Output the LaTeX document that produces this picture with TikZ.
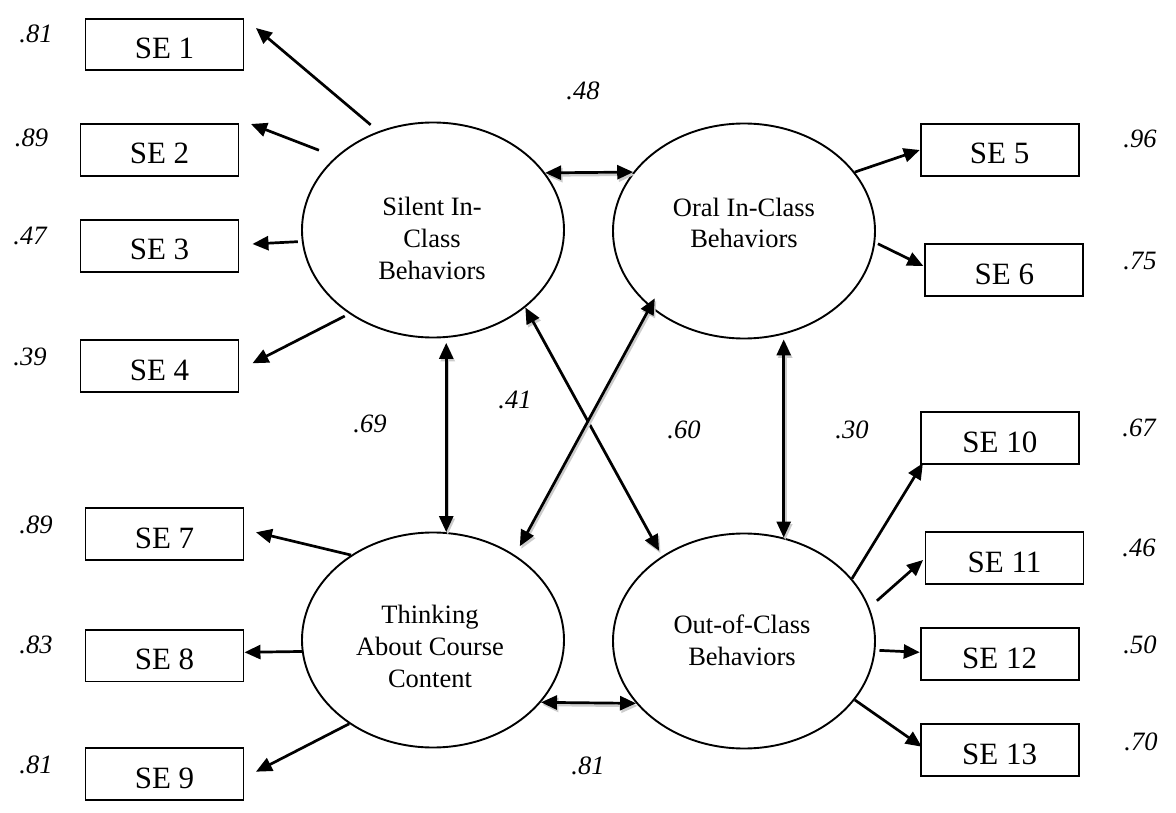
\documentclass[tikz,border=0pt]{standalone}
\usepackage{fontspec}
\setmainfont{Liberation Serif}
\usetikzlibrary{shapes.geometric,arrows.meta}
% a correlation: grey drop shade first, then the black double-headed line
\newcommand\corrline[3]{%
  \draw[corr,#1,draw=black!20,transform canvas={xshift=1.5pt,yshift=-2.5pt}] #2 -- #3;
  \draw[corr,#1] #2 -- #3;}
\begin{document}
\begin{tikzpicture}[x=1pt,y=-1pt,
  >={Triangle[length=16pt,width=14pt]},
  latent/.style={ellipse,draw,line width=1.9pt,minimum width=262pt,minimum height=215pt,inner sep=0pt},
  lattext/.style={align=center,inner sep=0pt,font=\fontsize{26.5}{31.7}\selectfont},
  obs/.style={rectangle,draw,line width=1.9pt,minimum width=158pt,minimum height=51.5pt,inner sep=0pt,
              text height=28pt,text depth=0pt,font=\fontsize{31}{36}\selectfont},
  coef/.style={anchor=base,inner sep=0pt,font=\fontsize{26.5}{31.7}\selectfont\itshape},
  load/.style={line width=2.7pt,->},
  corr/.style={line width=2.7pt,<->}]
\useasboundingbox[fill=white] (0,0) rectangle (1176,813);

% latent factors
\node[latent] (sil) at (433,230) {};
\node[latent] (ora) at (744,231) {};
\node[latent] (thk) at (433,640) {};
\node[latent] (out) at (744,641) {};
\node[lattext] (silT) at (432,238.6) {Silent In-\\Class\\Behaviors};
\node[lattext] (oraT) at (744,222.8) {Oral In-Class\\Behaviors};
\node[lattext] (thkT) at (430,646.4) {Thinking\\About Course\\Content};
\node[lattext] (outT) at (742,640.5) {Out-of-Class\\Behaviors};

% indicators
\node[obs] (se1)  at (164.5,44.5)  {SE 1};
\node[obs] (se2)  at (159.5,150)   {SE 2};
\node[obs] (se3)  at (159.5,246)   {SE 3};
\node[obs] (se4)  at (159.5,366)   {SE 4};
\node[obs] (se5)  at (999.7,150)   {SE 5};
\node[obs] (se6)  at (1004.3,270)  {SE 6};
\node[obs] (se7)  at (164.5,534)   {SE 7};
\node[obs] (se8)  at (164.5,655.7) {SE 8};
\node[obs] (se9)  at (164.5,774)   {SE 9};
\node[obs] (se10) at (999.8,438)   {SE 10};
\node[obs] (se11) at (1004.5,558)  {SE 11};
\node[obs] (se12) at (999.7,654)   {SE 12};
\node[obs] (se13) at (999.7,750)   {SE 13};

% loadings
\draw[load,shorten <=10pt] (sil.119.5) -- ([shift={(11.5,-16.5)}]se1.east);
\draw[load,shorten <=18pt] (sil.143.8) -- ([shift={(11.5,-26)}]se2.east);
\draw[load,shorten <=4pt]  (sil.185.9) -- ([shift={(13,-2)}]se3.east);
\draw[load,shorten <=5pt]  (sil.225.1) -- ([shift={(13,-2.7)}]se4.east);
\draw[load]                (ora.28.1)  -- (se5.west);
\draw[load,shorten <=3pt]  (ora.-5.6)  -- ([shift={(-1,-4)}]se6.west);
\draw[load]                (thk.134.7) -- ([shift={(11.5,-1.7)}]se7.east);
\draw[load]                (thk.185.4) -- ([shift={(0,-3.4)}]se8.east);
\draw[load]                (thk.225.7) -- ([shift={(11.5,-2.3)}]se9.east);
\draw[load]                (out.30)    -- ([shift={(3,-1.5)}]se10.south west);
\draw[load,shorten <=10pt] (out.15.7)  -- ([shift={(-1.5,2)}]se11.west);
\draw[load,shorten <=4pt]  (out.-4.8)  -- ([shift={(0,-1.7)}]se12.west);
\draw[load]                (out.-28.4) -- ([shift={(2,-3.3)}]se13.west);

% factor correlations
\corrline{}{(sil.27.2)}{(ora.152.2)}
\corrline{}{(thk.-30.6)}{(out.210)}
\corrline{shorten <=5pt}{(sil.-83.2)}{(thk.83.3)}
\corrline{shorten <=5pt}{(ora.-69.1)}{(out.69.3)}
\corrline{shorten >=6pt}{(sil.-40.1)}{(out.134.6)}
\corrline{shorten <=-10pt,shorten >=10pt}{(ora.219.5)}{(thk.46.5)}

% coefficients
\node[coef] (c1)  at (36,42.3)    {.81};
\node[coef] (c2)  at (31.5,146.7) {.89};
\node[coef] (c3)  at (30,245)     {.47};
\node[coef] (c4)  at (30,365)     {.39};
\node[coef] (c5)  at (36,533)     {.89};
\node[coef] (c6)  at (36,653)     {.83};
\node[coef] (c7)  at (36,773)     {.81};
\node[coef] (c8)  at (1140,148)   {.96};
\node[coef] (c9)  at (1140,270)   {.75};
\node[coef] (c10) at (1139,436.7) {.67};
\node[coef] (c11) at (1139,556.7) {.46};
\node[coef] (c12) at (1140,653)   {.50};
\node[coef] (c13) at (1141,750)   {.70};
\node[coef] (c14) at (583,100)    {.48};
\node[coef] (c15) at (588,774)    {.81};
\node[coef] (c16) at (515,408)    {.41};
\node[coef] (c17) at (370,432)    {.69};
\node[coef] (c18) at (684,438)    {.60};
\node[coef] (c19) at (852,438)    {.30};
\end{tikzpicture}
\end{document}
